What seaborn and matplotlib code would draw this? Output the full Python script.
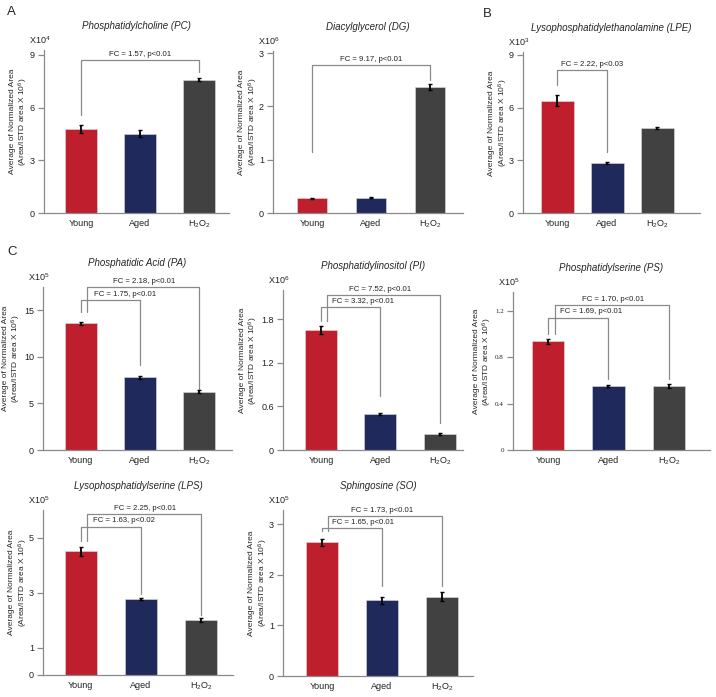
import matplotlib
matplotlib.use("Agg")
import matplotlib.pyplot as plt
import seaborn as sns
import pandas as pd

########## data ##########
groups = ["Young", "Aged", "H$_\\mathregular{2}$O$_\\mathregular{2}$"]
bar_colors = ["#BF1E2D", "#1F295B", "#414141"]

pc_mean = [4.8, 4.5, 7.6]
pc_err = [0.22, 0.2, 0.08]
dg_mean = [0.28, 0.29, 2.37]
dg_err = [0.01, 0.01, 0.06]
lpe_mean = [6.4, 2.85, 4.85]
lpe_err = [0.3, 0.06, 0.05]
pa_mean = [13.6, 7.8, 6.25]
pa_err = [0.15, 0.15, 0.15]
pi_mean = [1.65, 0.5, 0.22]
pi_err = [0.06, 0.015, 0.01]
ps_mean = [0.935, 0.55, 0.55]
ps_err = [0.02, 0.01, 0.015]
lps_mean = [4.5, 2.75, 2.0]
lps_err = [0.16, 0.04, 0.06]
so_mean = [2.64, 1.5, 1.57]
so_err = [0.065, 0.07, 0.08]

# brackets: (from bar, to bar, line height, left arm end, right arm end, text, text x)
pc_fc = [(0, 2, 8.71, 5.58, 8.03, "FC = 1.57, p<0.01", 1.0)]
dg_fc = [(0, 2, 2.78, 1.15, 2.5, "FC = 9.17, p<0.01", 1.0)]
lpe_fc = [(0, 1, 8.15, 7.3, 3.5, "FC = 2.22, p<0.03", 0.7)]
pa_fc = [(0, 1, 16.07, 14.8, 9.1, "FC = 1.75, p<0.01", 0.75),
         (0.1, 2, 17.5, 14.8, 6.43, "FC = 2.18, p<0.01", 1.08)]
pi_fc = [(0, 1, 1.96, 1.78, 0.74, "FC = 3.32, p<0.01", 0.7),
         (0.1, 2, 2.13, 1.78, 0.37, "FC = 7.52, p<0.01", 1.0)]
ps_fc = [(0, 1, 1.14, 1.0, 0.61, "FC = 1.69, p<0.01", 0.72),
         (0.11, 2, 1.25, 1.0, 0.61, "FC = 1.70, p<0.01", 1.07)]
lps_fc = [(0, 1, 5.4, 4.88, 2.95, "FC = 1.63, p<0.02", 0.71),
          (0.11, 2, 5.84, 4.88, 2.17, "FC = 2.25, p<0.01", 1.07)]
so_fc = [(0, 1, 2.93, 2.86, 1.78, "FC = 1.65, p<0.01", 0.68),
         (0.1, 2, 3.16, 2.86, 1.78, "FC = 1.73, p<0.01", 1.01)]

W, H = 716, 697
GRAY = "#8a8a8a"


def rect(left, right, top, base):
    # pixel box -> figure fraction
    return [left / W, 1 - base / H, (right - left) / W, (base - top) / H]


def drawPanel(fig, box, xlim, title, exponent, means, errs, yticks, ytop, brackets,
              width=0.54, serif_ticks=False, label_gap=13.5):
    ax = fig.add_axes(box)
    df = pd.DataFrame({"group": groups, "value": means})
    sns.barplot(data=df, x="group", y="value", hue="group", palette=bar_colors,
                order=groups, width=width, legend=False, ax=ax, saturation=1,
                edgecolor="#dddddd", linewidth=0.4)
    ax.errorbar(range(len(means)), means, yerr=errs, fmt="none", ecolor="black",
                elinewidth=1.3, capsize=1.5, capthick=1.0, zorder=5)

    for x1, x2, yl, y1, y2, label, tx in brackets:
        ax.plot([x1, x1, x2, x2], [y1, yl, yl, y2], color=GRAY, lw=0.9,
                clip_on=False, zorder=4)
        ax.annotate(label, (tx, yl), xytext=(0, 1.5), textcoords="offset points",
                    ha="center", va="bottom", fontsize=5.6, color="#222222",
                    annotation_clip=False)

    ax.set_xlim(*xlim)
    ax.set_ylim(0, ytop)
    ax.set_yticks(yticks)
    ax.set_yticklabels([f"{t:g}" for t in yticks])
    ax.set_xlabel("")
    ax.set_ylabel("Average of Normalized Area\n(Area/ISTD area X 10$^\\mathregular{6}$)",
                  fontsize=6, linespacing=1.1)
    ax.yaxis.set_label_coords(-label_gap / (box[2] * W), 0.56)
    ax.set_title(title, fontsize=7, style="italic", pad=15)

    for side in ["top", "right"]:
        ax.spines[side].set_visible(False)
    for side in ["left", "bottom"]:
        ax.spines[side].set_color(GRAY)
        ax.spines[side].set_linewidth(0.9)
    ax.tick_params(axis="y", length=4.5, width=0.9, color=GRAY, labelsize=6.5, pad=2,
                   labelcolor="#222222")
    ax.tick_params(axis="x", length=0, labelsize=6.5, pad=4, labelcolor="#222222")
    if serif_ticks:
        for lab in ax.get_yticklabels():
            lab.set_fontfamily("Liberation Serif")
            lab.set_fontsize(5)

    ax.annotate("X10$^\\mathregular{%d}$" % exponent, (0, 1), xycoords="axes fraction",
                xytext=(-15, 10), textcoords="offset pixels", ha="left", va="center",
                fontsize=6.5, color="#222222", annotation_clip=False)
    return ax


def main():
    sns.set_style("ticks")
    plt.rcParams["font.family"] = ["Liberation Sans", "DejaVu Sans"]
    plt.rcParams["mathtext.fontset"] = "custom"
    plt.rcParams["mathtext.rm"] = "Liberation Sans"
    plt.rcParams["mathtext.it"] = "Liberation Sans:italic"

    fig = plt.figure(figsize=(7.16, 6.97), dpi=100)

    drawPanel(fig, rect(44, 229, 50, 213), (-0.63, 2.51), "Phosphatidylcholine (PC)", 4,
              pc_mean, pc_err, [0, 3, 6, 9], 9.28, pc_fc)
    drawPanel(fig, rect(273, 463, 51, 213), (-0.66, 2.56), "Diacylglycerol (DG)", 6,
              dg_mean, dg_err, [0, 1, 2, 3], 3.04, dg_fc, width=0.52)
    drawPanel(fig, rect(523, 700, 52, 213), (-0.68, 2.86), "Lysophosphatidylethanolamine (LPE)", 3,
              lpe_mean, lpe_err, [0, 3, 6, 9], 9.17, lpe_fc, width=0.66)

    drawPanel(fig, rect(43, 232, 287, 450), (-0.64, 2.56), "Phosphatidic Acid (PA)", 5,
              pa_mean, pa_err, [0, 5, 10, 15], 17.5, pa_fc, label_gap=19.5)
    drawPanel(fig, rect(283, 463, 290, 450), (-0.64, 2.39), "Phosphatidylinositol (PI)", 6,
              pi_mean, pi_err, [0, 0.6, 1.2, 1.8], 2.2, pi_fc, label_gap=23)
    drawPanel(fig, rect(513, 710, 292, 450), (-0.58, 2.68), "Phosphatidylserine (PS)", 5,
              ps_mean, ps_err, [0, 0.4, 0.8, 1.2], 1.36, ps_fc, serif_ticks=True,
              label_gap=19)

    drawPanel(fig, rect(43, 233, 510, 675), (-0.63, 2.53), "Lysophosphatidylserine (LPS)", 5,
              lps_mean, lps_err, [0, 1, 3, 5], 6.0, lps_fc)
    drawPanel(fig, rect(283, 473, 510, 676), (-0.65, 2.52), "Sphingosine (SO)", 5,
              so_mean, so_err, [0, 1, 2, 3], 3.28, so_fc)

    fig.text(7 / W, 1 - 12 / H, "A", fontsize=9.5, va="center", ha="left")
    fig.text(483 / W, 1 - 14 / H, "B", fontsize=9.5, va="center", ha="left")
    fig.text(7 / W, 1 - 252 / H, "C", fontsize=9.5, va="center", ha="left")

    fig.savefig("out.png", dpi=100)


if __name__ == "__main__":
    main()
